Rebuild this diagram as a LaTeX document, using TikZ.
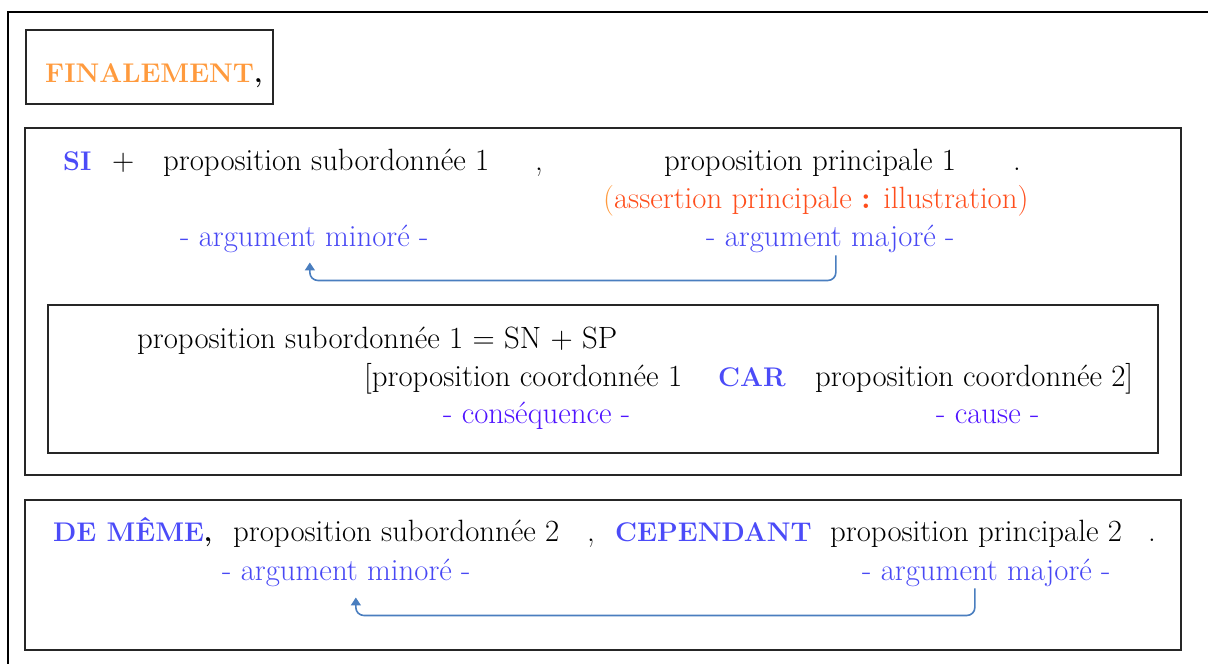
\documentclass[tikz,border=0pt]{standalone}
\usepackage{fontspec}
\usetikzlibrary{arrows.meta, positioning}
\definecolor{orangefin}{HTML}{FF9A3D}
\definecolor{rougeass}{HTML}{FF4E1C}
\definecolor{motbleu}{HTML}{4B4BF8}
\definecolor{argbleu}{HTML}{4848F4}
\definecolor{violetarg}{HTML}{4F14FF}
\definecolor{fleche}{HTML}{4A7EBF}
\newcommand{\txtfont}{\fontsize{30.8}{36}\selectfont}
\newcommand{\motfont}{\fontsize{27}{32}\selectfont\bfseries}

\begin{document}
\begin{tikzpicture}[x=1pt, y=-1pt, >=Stealth,
    every node/.style={font=\txtfont, inner sep=0pt},
    txt/.style={anchor=base west},
    mot/.style={anchor=base west, font=\motfont, text=motbleu},
    arg/.style={anchor=base west, text=argbleu},
    cause/.style={anchor=base west, text=violetarg},
    cadre/.style={draw=black!85, line width=1.7pt},
    retour/.style={-{Triangle[width=10pt,length=8pt]}, line width=1.6pt, draw=fleche, rounded corners=8pt}]
    \useasboundingbox (0,0) rectangle (1208,664);
    \clip (0,0) rectangle (1208,664);
    % cadres
    \draw[line width=1.7pt] (8,680) |- (1230,12);
    \draw[cadre] (26,30) rectangle (273,104);
    \draw[cadre] (25,128) rectangle (1181,475);
    \draw[cadre] (48,305) rectangle (1158,453);
    \draw[cadre] (25,500) rectangle (1181,650);
    % finalement
    \node (fin) [txt, font=\motfont] at (45,82) {\textcolor{orangefin}{FINALEMENT},};
    % premiere phrase
    \node (si) [mot] at (63,170) {SI};
    \node (plus) [txt] at (112,170) {+};
    \node (sub1) [txt] at (163,170) {proposition subordonnée 1};
    \node (virg1) [txt] at (535,170) {,};
    \node (princ1) [txt] at (664,170) {proposition principale 1};
    \node (pt1) [txt] at (1013,170) {.};
    \node (ass) [txt, text=rougeass] at (603,208) {\textcolor{orangefin}{(}assertion principale \textbf{:} illustration)};
    \node (min1) [arg] at (180,246) {- argument minoré -};
    \node (maj1) [arg] at (706,246) {- argument majoré -};
    \draw[retour] ([xshift=5.5pt, yshift=-3pt]maj1.south) -- ++(0,25) -| ([xshift=5.5pt, yshift=-10pt]min1.south);
    % decomposition
    \node (decomp) [txt] at (137,348) {proposition subordonnée 1 = SN + SP};
    \node (coord1) [txt] at (364,386) {[proposition coordonnée 1};
    \node (car) [mot] at (718,386) {CAR};
    \node (coord2) [txt] at (815,386) {proposition coordonnée 2]};
    \node (csq) [cause] at (443,423) {- conséquence -};
    \node (cau) [cause] at (936,423) {- cause -};
    % seconde phrase
    \node (dememe) [mot] at (53,541) {DE MÊME\textcolor{black}{,}};
    \node (sub2) [txt] at (233,541) {proposition subordonnée 2};
    \node (virg2) [txt] at (587,541) {,};
    \node (cep) [mot] at (615,541) {CEPENDANT};
    \node (princ2) [txt] at (830,541) {proposition principale 2};
    \node (pt2) [txt] at (1148,541) {.};
    \node (min2) [arg] at (222,580) {- argument minoré -};
    \node (maj2) [arg] at (862,580) {- argument majoré -};
    \draw[retour] ([xshift=-11.5pt, yshift=-2pt]maj2.south) -- ++(0,27) -| ([xshift=9.5pt, yshift=-11pt]min2.south);
\end{tikzpicture}
\end{document}
